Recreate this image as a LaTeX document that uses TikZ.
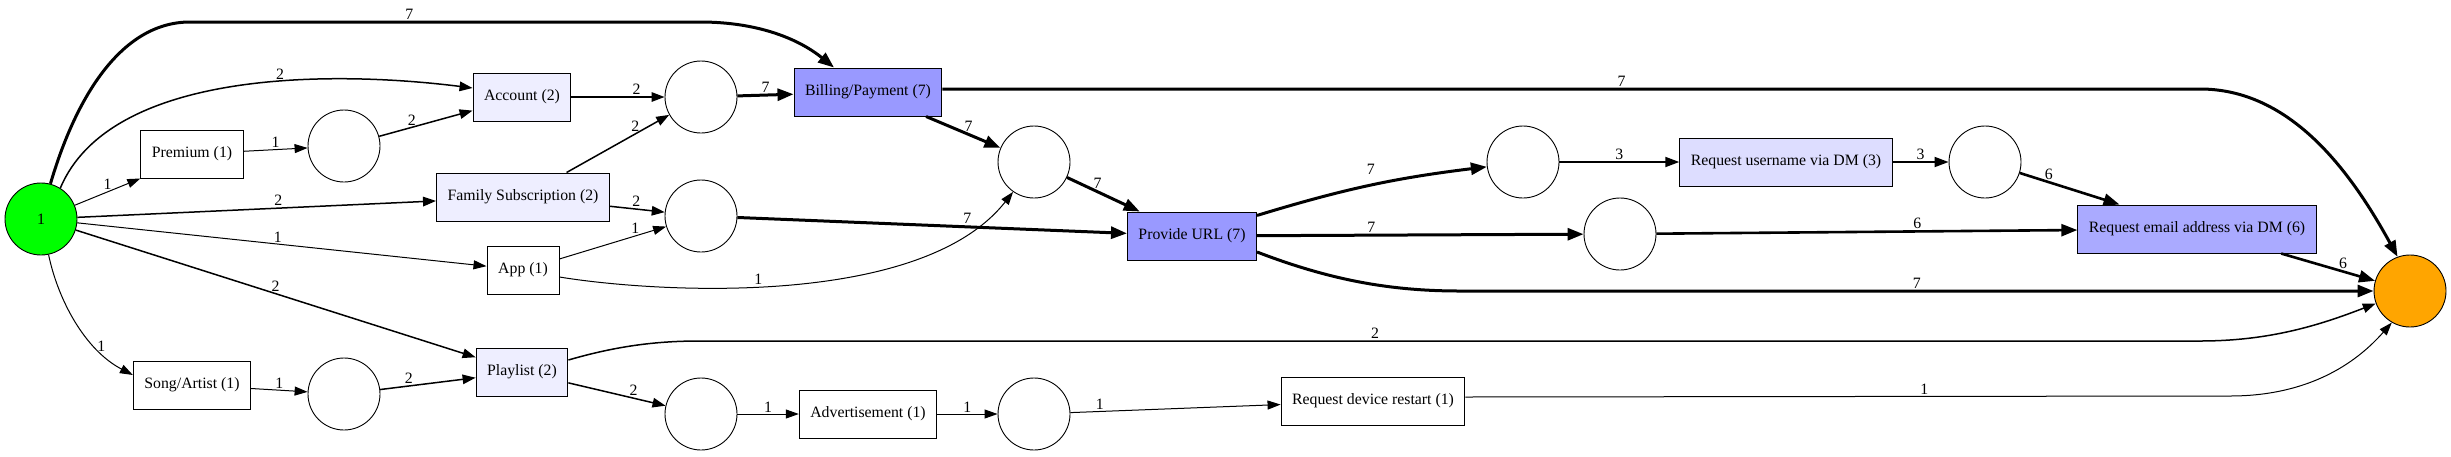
\documentclass[tikz,border=0pt]{standalone}
\usepackage{fontspec}
\setmainfont{Liberation Serif}
\usetikzlibrary{arrows.meta}
\definecolor{srcgreen}{HTML}{00FF00}
\definecolor{sinkorange}{HTML}{FFA500}
\definecolor{lav}{HTML}{EEEEFF}
\definecolor{paleblue}{HTML}{DDDDFF}
\definecolor{midblue}{HTML}{9999FF}
\definecolor{mailblue}{HTML}{AAAAFF}
\begin{document}
\begin{tikzpicture}[x=1pt,y=-1pt,
    every node/.style={font=\fontsize{15.8}{19}\selectfont},
    box/.style={draw,rectangle,line width=1pt,minimum height=48pt,minimum width=72pt,inner xsep=11pt},
    plc/.style={draw,circle,line width=0.9pt,minimum size=72pt,inner sep=0pt},
    lbl/.style={inner sep=1.5pt},
    e1/.style={-{Triangle[length=13pt,width=9pt]},line width=1pt},
    e2/.style={-{Triangle[length=13pt,width=9.5pt]},line width=1.5pt},
    e3/.style={-{Triangle[length=14pt,width=10pt]},line width=1.8pt},
    e6/.style={-{Triangle[length=16pt,width=12pt]},line width=2.6pt},
    e7/.style={-{Triangle[length=16pt,width=12pt]},line width=3pt}]
  \useasboundingbox (0,0) rectangle (2451,456);
  \node[plc,fill=srcgreen] (source) at (41,219) {1};
  \node[box] (prem) at (192,154) {Premium (1)};
  \node[plc] (p1) at (344,146) {};
  \node[box,fill=lav] (acct) at (522,97) {Account (2)};
  \node[box,fill=lav] (fam) at (523,197) {Family Subscription (2)};
  \node[box] (app) at (523,270) {App (1)};
  \node[box,fill=lav] (play) at (522,372) {Playlist (2)};
  \node[box] (song) at (192,385) {Song/Artist (1)};
  \node[plc] (p4) at (344,394) {};
  \node[plc] (p2) at (701,97) {};
  \node[plc] (p3) at (701,216) {};
  \node[plc] (p5) at (701,414) {};
  \node[box,fill=midblue] (bill) at (868,92) {Billing/Payment (7)};
  \node[plc] (p6) at (1034,162) {};
  \node[box,fill=midblue] (url) at (1192,236) {Provide URL (7)};
  \node[box] (adv) at (868,414) {Advertisement (1)};
  \node[plc] (p10) at (1034,414) {};
  \node[plc] (p7) at (1523,162) {};
  \node[plc] (p8) at (1620,234) {};
  \node[box] (restart) at (1373,401) {Request device restart (1)};
  \node[box,fill=paleblue] (user) at (1786,162) {Request username via DM (3)};
  \node[plc] (p9) at (1985,162) {};
  \node[box,fill=mailblue] (email) at (2197,229) {Request email address via DM (6)};
  \node[plc,fill=sinkorange] (sink) at (2410,291) {};
  % arcs out of the source
  \draw[e7] (source.75) .. controls (75,100) and (120,22) .. (190,22) -- node[lbl,pos=.43,above] {7} (700,22) .. controls (760,22) and (800,40) .. ([xshift=-34pt]bill.north);
  \draw[e2] (source.58) .. controls (110,70) and (330,70) .. node[lbl,pos=.6,above] {2} ([yshift=9pt]acct.west);
  \draw[e1] (source) -- node[lbl,above] {1} (prem.south west);
  \draw[e2] (source) -- node[lbl,pos=.56,above] {2} (fam);
  \draw[e1] (source) -- node[lbl,pos=.49,above] {1} (app);
  \draw[e2] (source) -- node[lbl,above] {2} (play);
  \draw[e1] (source.-78) .. controls (58,300) and (85,350) .. node[lbl,pos=.7,right] {1} ([yshift=10pt]song.west);
  \draw[e1] (prem) -- node[lbl,above] {1} (p1);
  \draw[e2] (p1) -- node[lbl,pos=.35,above] {2} (acct);
  \draw[e1] (song) -- node[lbl,above] {1} (p4);
  \draw[e2] (p4) -- node[lbl,pos=.3,above] {2} (play);
  \draw[e2] (acct) -- node[lbl,pos=.7,above] {2} (p2);
  \draw[e2] (fam) -- node[lbl,pos=.67,above] {2} (p2);
  \draw[e2] (fam) -- node[lbl,pos=.48,above] {2} (p3);
  \draw[e1] (app) -- node[lbl,pos=.71,above] {1} (p3);
  \draw[e1] ([yshift=-7pt]app.east) .. controls (650,292) and (920,310) .. node[lbl,pos=.45,above] {1} (p6.-125);
  \draw[e7] (p2) -- node[lbl,above] {7} (bill);
  \draw[e7] (bill) -- node[lbl,pos=.57,above] {7} (p6);
  \draw[e7] ([yshift=3pt]bill.east) -- node[lbl,pos=.54,above] {7} (2200,89) .. controls (2290,89) and (2350,170) .. (sink.110);
  \draw[e7] (p3) -- node[lbl,pos=.59,above] {7} (url);
  \draw[e7] (p6) -- node[lbl,pos=.42,above] {7} (url);
  \draw[e7] (url) to[bend left=5] node[lbl,above=8pt] {7} (p7);
  \draw[e7] (url) -- node[lbl,pos=.35,above] {7} (p8);
  \draw[e7] ([yshift=-16pt]url.east) .. controls (1330,280) and (1390,291) .. (1460,291) -- node[lbl,above] {7} (sink);
  \draw[e3] (p7) -- node[lbl,above] {3} (user);
  \draw[e3] (user) -- node[lbl,above] {3} (p9);
  \draw[e6] (p9) -- node[lbl,pos=.29,above] {6} (email);
  \draw[e6] (p8) -- node[lbl,pos=.62,above] {6} (email);
  \draw[e6] (email) -- node[lbl,pos=.66,above] {6} (sink);
  \draw[e2] ([yshift=12pt]play.east) .. controls (620,345) and (660,341) .. (700,341) -- node[lbl,pos=.45,above] {2} (2200,341) .. controls (2270,341) and (2320,325) .. (sink.200);
  \draw[e2] (play) -- node[lbl,pos=.67,above] {2} (p5);
  \draw[e1] (p5) -- node[lbl,above] {1} (adv);
  \draw[e1] (adv) -- node[lbl,above] {1} (p10);
  \draw[e1] (p10) -- node[lbl,pos=.14,above] {1} (restart);
  \draw[e1] ([yshift=4pt]restart.east) -- node[lbl,pos=.6,above] {1} (2230,396) .. controls (2300,396) and (2350,370) .. (sink.240);
\end{tikzpicture}
\end{document}
